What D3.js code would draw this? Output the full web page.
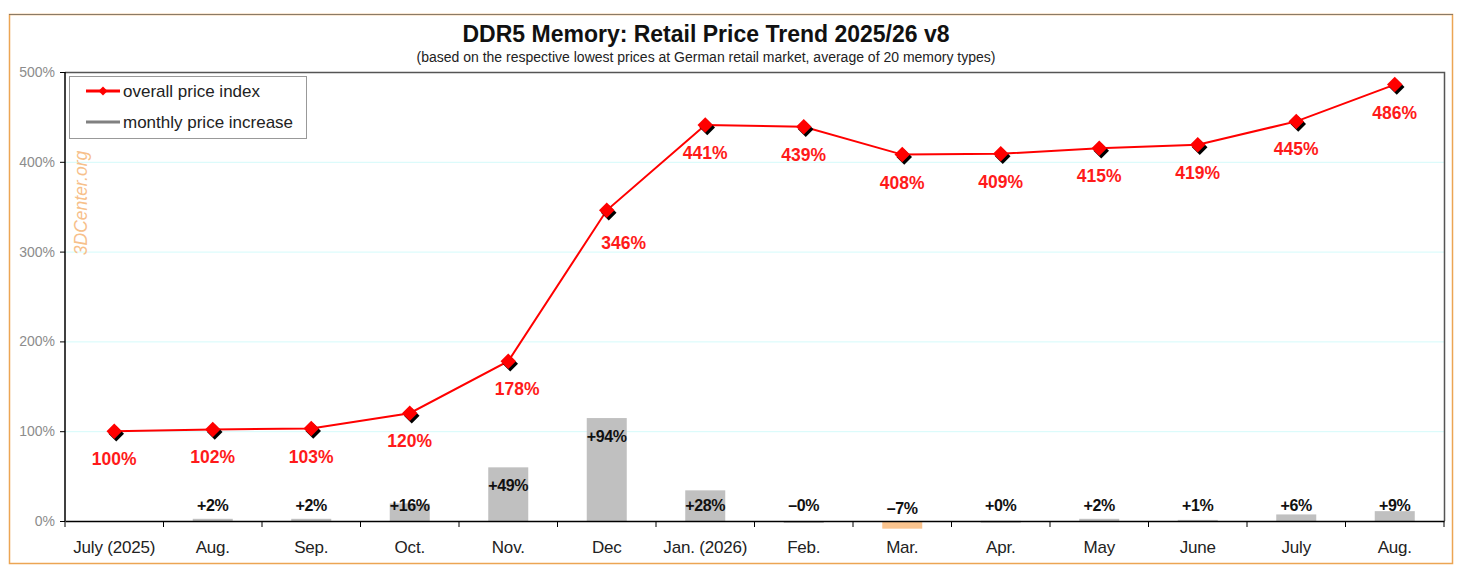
<!DOCTYPE html>
<html>
<head>
<meta charset="utf-8">
<script src="https://cdn.jsdelivr.net/npm/d3@7"></script>
<style>
  body { margin: 0; background: #fff; }
  svg { font-family: "Liberation Sans", Arial, sans-serif; display: block; }
</style>
</head>
<body>
<svg id="chart"></svg>
<script>
// ---- data ----
var months = ["July (2025)", "Aug.", "Sep.", "Oct.", "Nov.", "Dec", "Jan. (2026)",
  "Feb.", "Mar.", "Apr.", "May", "June", "July", "Aug."];
var priceIndex = [100, 102, 103, 120, 178, 346, 441, 439, 408, 409, 415, 419, 445, 486];
var monthlyIncrease = [null, 2, 2, 16, 49, 94, 28, -0.4, -7, 0.2, 2, 1, 6, 9];
var increaseLabels = ["", "+2%", "+2%", "+16%", "+49%", "+94%", "+28%", "\u20130%",
  "\u20137%", "+0%", "+2%", "+1%", "+6%", "+9%"];
var yTicks = [0, 100, 200, 300, 400, 500];

var width = 1462, height = 571;
var margin = { left: 65, right: 18, top: 72, bottom: 50 };

var svg = d3.select("#chart").attr("width", width).attr("height", height);

// outer frame
svg.append("rect")
  .attr("x", 9.5).attr("y", 14.5)
  .attr("width", 1443).attr("height", 549)
  .attr("fill", "#fff").attr("stroke", "#eca553").attr("stroke-width", 1.5);
svg.append("line")
  .attr("x1", 9).attr("x2", 1453).attr("y1", 14.5).attr("y2", 14.5)
  .attr("stroke", "#8a7a66").attr("stroke-width", 1);

// scales (months repeat, so the band scale runs on indices)
var idx = d3.range(months.length);
var xScale = d3.scaleBand()
  .domain(idx)
  .range([margin.left, width - margin.right]);
var yScale = d3.scaleLinear()
  .domain([0, 500])
  .range([height - margin.bottom, margin.top]);
// bars sit on a hidden secondary axis
var yBar = d3.scaleLinear()
  .domain([0, 410])
  .range([height - margin.bottom, margin.top]);
var cx = function(d) { return xScale(d.i) + xScale.bandwidth() / 2; };

// grid lines
svg.append("g")
  .selectAll("line").data(yTicks.filter(function(t) { return t > 0 && t < 500; }))
  .enter().append("line")
  .attr("x1", margin.left).attr("x2", width - margin.right)
  .attr("y1", function(d) { return yScale(d) + 0.5; })
  .attr("y2", function(d) { return yScale(d) + 0.5; })
  .attr("stroke", "#d4fbfb").attr("stroke-width", 1);

// plot border (top / right)
svg.append("path")
  .attr("d", "M" + margin.left + "," + (margin.top + 0.5) +
    "H" + (width - margin.right + 0.5) + "V" + yScale(0))
  .attr("fill", "none").attr("stroke", "#555").attr("stroke-width", 1.5);

// watermark
svg.append("text")
  .attr("transform", "translate(87,203) rotate(-90)")
  .attr("text-anchor", "middle")
  .attr("font-size", 17.5).attr("font-style", "italic")
  .attr("fill", "#f7c08a")
  .text("3DCenter.org");

// bars
var barW = 40;
var bars = idx.map(function(i) { return { i: i, v: monthlyIncrease[i], label: increaseLabels[i] }; })
  .filter(function(d) { return d.v !== null; });

svg.append("g")
  .selectAll("rect").data(bars)
  .enter().append("rect")
  .attr("x", function(d) { return cx(d) - barW / 2; })
  .attr("y", function(d) { return Math.min(yBar(d.v), yBar(0)); })
  .attr("width", barW)
  .attr("height", function(d) { return Math.max(Math.abs(yBar(0) - yBar(d.v)), 2); })
  .attr("fill", function(d) { return d.v < -1 ? "#fbc48e" : "#c0c0c0"; });

svg.append("g")
  .selectAll("text").data(bars)
  .enter().append("text")
  .attr("x", cx)
  .attr("y", function(d) {
    var top = Math.min(yBar(d.v), yBar(0));
    var c = Math.min(top + 18, yScale(0) - 16);
    if (d.v < -1) c += 3;
    return c + 5.5;
  })
  .attr("text-anchor", "middle")
  .attr("font-size", 16).attr("font-weight", "bold")
  .attr("letter-spacing", -0.4)
  .attr("fill", "#111")
  .text(function(d) { return d.label; });

// axes
var xAxis = d3.axisBottom(xScale).tickSize(0).tickFormat(function(i) { return months[i]; });
var gx = svg.append("g")
  .attr("transform", "translate(0," + yScale(0) + ")")
  .call(xAxis);
gx.select(".domain").attr("stroke", "#000").attr("stroke-width", 1.5);
gx.selectAll(".tick text")
  .attr("dy", 0).attr("y", 32)
  .attr("font-size", 17).attr("fill", "#222")
  .attr("letter-spacing", -0.2)
  .style("font-family", "'Liberation Sans', Arial, sans-serif");

// category boundary ticks
svg.append("g")
  .selectAll("line").data(d3.range(months.length + 1))
  .enter().append("line")
  .attr("x1", function(k) { return margin.left + k * xScale.step(); })
  .attr("x2", function(k) { return margin.left + k * xScale.step(); })
  .attr("y1", yScale(0)).attr("y2", yScale(0) + 6)
  .attr("stroke", "#000").attr("stroke-width", 1);

var yAxis = d3.axisLeft(yScale)
  .tickValues(yTicks)
  .tickSize(5)
  .tickFormat(function(d) { return d + "%"; });
var gy = svg.append("g")
  .attr("transform", "translate(" + margin.left + ",0)")
  .call(yAxis);
gy.select(".domain").attr("stroke", "#000").attr("stroke-width", 1.5).attr("d",
  "M0," + yScale(500) + "V" + yScale(0));
gy.selectAll(".tick line").attr("stroke", "#000");
gy.selectAll(".tick text")
  .attr("x", -10)
  .attr("font-size", 14).attr("fill", "#8c8c8c")
  .style("font-family", "'Liberation Sans', Arial, sans-serif");

// price index line
var pts = idx.map(function(i) { return { i: i, v: priceIndex[i] }; });

svg.append("path")
  .datum(pts)
  .attr("fill", "none")
  .attr("stroke", "#ff0000").attr("stroke-width", 2)
  .attr("d", d3.line().x(cx).y(function(d) { return yScale(d.v); }));

var diamond = d3.symbol().type(d3.symbolSquare).size(120);
var mk = svg.append("g").selectAll("g").data(pts).enter().append("g");
mk.append("path")
  .attr("d", diamond)
  .attr("transform", function(d) { return "translate(" + (cx(d) + 2) + "," + (yScale(d.v) + 2.5) + ") rotate(45)"; })
  .attr("fill", "#000");
mk.append("path")
  .attr("d", diamond)
  .attr("transform", function(d) { return "translate(" + cx(d) + "," + yScale(d.v) + ") rotate(45)"; })
  .attr("fill", "#ff0000");

// labels move right when the line climbs steeply on both sides of a point
var rise = function(d) { return d.i > 0 ? d.v - priceIndex[d.i - 1] : 0; };
var nextRise = function(d) { return d.i < priceIndex.length - 1 ? priceIndex[d.i + 1] - d.v : 0; };
var shift = function(d) { return nextRise(d) > 90 ? (rise(d) > 100 ? 17 : 9) : 0; };
svg.append("g")
  .selectAll("text").data(pts)
  .enter().append("text")
  .attr("x", function(d) { return cx(d) + shift(d); })
  .attr("y", function(d) { return yScale(d.v) + (shift(d) > 10 ? 39 : 34); })
  .attr("text-anchor", "middle")
  .attr("font-size", 17.5).attr("font-weight", "bold")
  .attr("fill", "#ff1a1a")
  .text(function(d) { return d.v + "%"; });

// title
svg.append("text")
  .attr("x", 706).attr("y", 42)
  .attr("text-anchor", "middle")
  .attr("font-size", 23).attr("font-weight", "bold").attr("fill", "#111")
  .text("DDR5 Memory: Retail Price Trend 2025/26 v8");
svg.append("text")
  .attr("x", 706).attr("y", 62)
  .attr("text-anchor", "middle")
  .attr("font-size", 14).attr("fill", "#222")
  .text("(based on the respective lowest prices at German retail market, average of 20 memory types)");

// legend
var legend = svg.append("g");
legend.append("rect")
  .attr("x", 69.5).attr("y", 76.5).attr("width", 237).attr("height", 62)
  .attr("fill", "#fff").attr("stroke", "#999").attr("stroke-width", 1);
var legendItems = [
  { name: "overall price index", color: "#ff0000", marker: true },
  { name: "monthly price increase", color: "#808080", marker: false }
];
var li = legend.selectAll("g.item").data(legendItems).enter().append("g")
  .attr("transform", function(d, i) { return "translate(0," + (91 + i * 31) + ")"; });
li.append("line")
  .attr("x1", 86).attr("x2", 120).attr("y1", 0).attr("y2", 0)
  .attr("stroke", function(d) { return d.color; }).attr("stroke-width", 3);
li.filter(function(d) { return d.marker; }).append("path")
  .attr("d", d3.symbol().type(d3.symbolSquare).size(40))
  .attr("transform", "translate(103,0) rotate(45)")
  .attr("fill", "#ff0000");
li.append("text")
  .attr("x", 123).attr("y", 6)
  .attr("font-size", 17).attr("fill", "#222")
  .text(function(d) { return d.name; });
</script>
</body>
</html>
